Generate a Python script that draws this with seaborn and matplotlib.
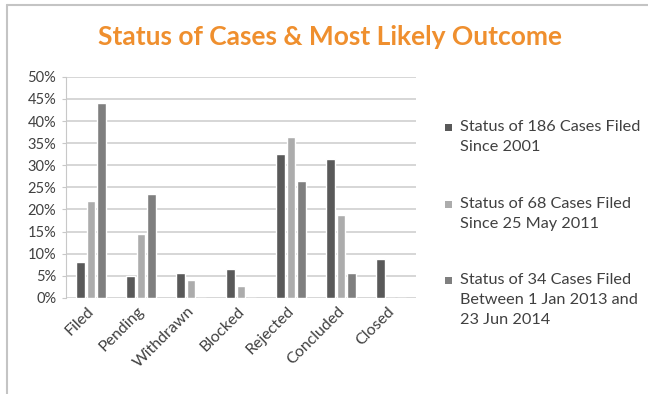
import pandas as pd
import matplotlib
matplotlib.use("Agg")
import matplotlib.pyplot as plt
import matplotlib.patches as mpatches
import matplotlib.transforms as mtransforms
from matplotlib.lines import Line2D
from matplotlib.ticker import PercentFormatter
import seaborn as sns

# categories and series (percent of cases)
statuses = ["Filed", "Pending", "Withdrawn", "Blocked", "Rejected", "Concluded", "Closed"]
series_names = ["Status of 186 Cases Filed\nSince 2001",
                "Status of 68 Cases Filed\nSince 25 May 2011",
                "Status of 34 Cases Filed\nBetween 1 Jan 2013 and\n23 Jun 2014"]
cases_186 = [8.0, 5.0, 5.6, 6.6, 32.5, 31.5, 8.8]
cases_68 = [21.8, 14.5, 4.1, 2.6, 36.5, 18.8, 0.0]
cases_34 = [44.1, 23.4, 0.0, 0.0, 26.4, 5.7, 0.0]

colors = ["#595959", "#acacac", "#7f7f7f"]


def build_frame():
    rows = []
    for name, vals in zip(series_names, [cases_186, cases_68, cases_34]):
        for st, v in zip(statuses, vals):
            rows.append({"status": st, "series": name, "pct": v})
    return pd.DataFrame(rows)


sns.set_style("white")
plt.rcParams["font.family"] = ["Lato", "DejaVu Sans"]

df = build_frame()
fig = plt.figure(figsize=(6.48, 3.94), dpi=100)
ax = fig.add_axes([0.102, 0.244, 0.540, 0.561])

sns.barplot(data=df, x="status", y="pct", hue="series", order=statuses,
            hue_order=series_names, palette=colors, width=0.62, gap=0.15,
            saturation=1, ax=ax, legend=False)

ax.set_ylim(0, 50)
ax.set_yticks(range(0, 51, 5))
ax.yaxis.set_major_formatter(PercentFormatter(decimals=0))
ax.yaxis.grid(True, color="#d0d0d0", linewidth=1.2)
ax.set_axisbelow(True)
ax.set_xlabel("")
ax.set_ylabel("")
for s in ["top", "right", "bottom"]:
    ax.spines[s].set_visible(False)
ax.spines["left"].set_color("#c8c8c8")
ax.tick_params(axis="y", left=True, length=3, color="#c8c8c8",
               labelsize=10.5, labelcolor="#404040", pad=4)
ax.tick_params(axis="x", bottom=False, labelsize=11.5, labelcolor="#404040", pad=1)
shift = mtransforms.ScaledTranslation(-4 / 100, 0, fig.dpi_scale_trans)
for lab in ax.get_xticklabels():
    lab.set_rotation(45)
    lab.set_ha("right")
    lab.set_rotation_mode("anchor")
    lab.set_transform(lab.get_transform() + shift)

fig.suptitle("Status of Cases & Most Likely Outcome", x=0.51, y=0.937,
             fontsize=19, fontweight="bold", color="#ef8f2e")

# legend in the Excel style: square beside the first line of each label
first_line_px = [127, 204, 280]
for name, col, ypx in zip(series_names, colors, first_line_px):
    yc = 1 - ypx / 394
    fig.patches.append(mpatches.Rectangle((445 / 648, yc - 3.5 / 394), 7 / 648, 7 / 394,
                                          facecolor=col, edgecolor="none",
                                          transform=fig.transFigure, figure=fig))
    fig.text(460 / 648, yc + 7 / 394, name, ha="left", va="top", fontsize=11.7,
             color="#404040", linespacing=1.55)

# outer chart frame (left and top edges visible)
fig.add_artist(Line2D([0.011, 0.011], [0.0, 0.987], color="#c4c4c4", linewidth=1.5))
fig.add_artist(Line2D([0.011, 1.0], [0.987, 0.987], color="#c4c4c4", linewidth=1.5))

plt.savefig("out.png", dpi=100)
plt.close()
